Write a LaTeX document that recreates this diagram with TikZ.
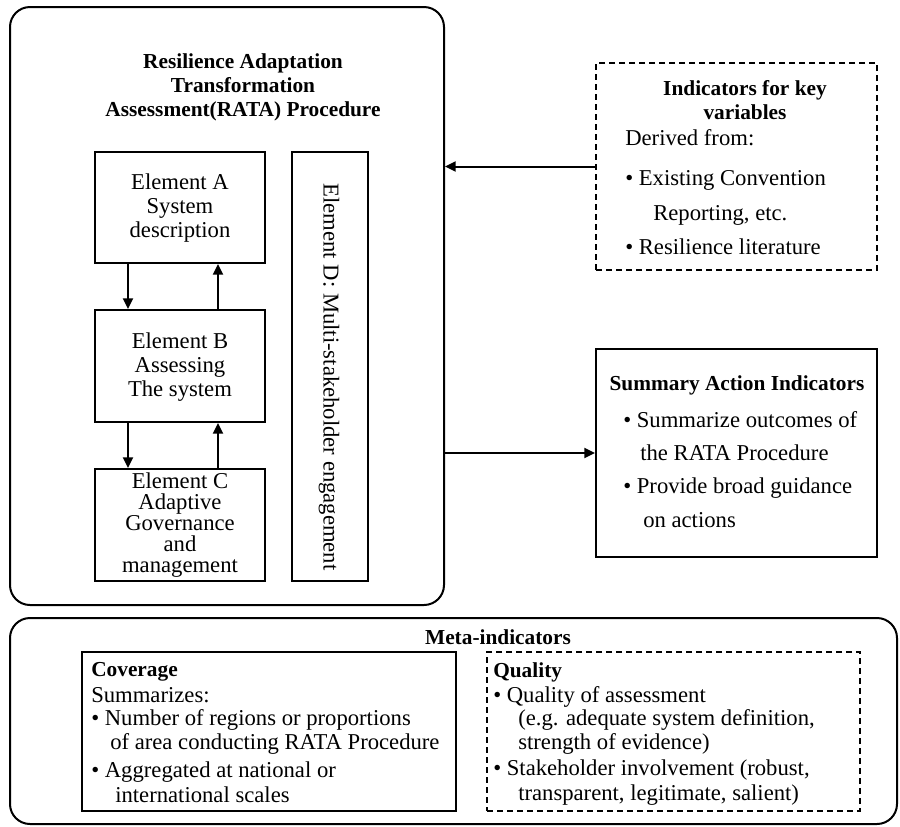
\documentclass[tikz,border=0pt]{standalone}
\usepackage{fontspec}
\setmainfont{Liberation Serif}
\usetikzlibrary{arrows.meta}
\begin{document}
\begin{tikzpicture}[x=0.75pt,y=-0.75pt,
  font=\fontsize{17}{18}\selectfont,
  box/.style={draw, line width=1.5pt, inner sep=0pt},
  dbox/.style={box, line width=1.3pt, dash pattern=on 4.5pt off 3pt},
  txt/.style={inner sep=0pt, align=center},
  ltxt/.style={inner sep=0pt, anchor=west},
  bold/.style={font=\fontsize{16}{18}\selectfont\bfseries},
  arr/.style={line width=1.5pt, -{Triangle[length=8pt,width=7.5pt]}}
]
\useasboundingbox (0,0) rectangle (900,826);

% RATA procedure frame
\node[box, rounded corners=15pt, minimum width=325.5pt, minimum height=448.5pt] (main) at (227,306) {};
\node[txt, bold] (title) at (243,87)
  {Resilience Adaptation\\Transformation\\Assessment(RATA) Procedure};

% elements A, B, C
\node[box, minimum width=127.5pt, minimum height=83.25pt] (A) at (180,207.5) {};
\node[box, minimum width=127.5pt, minimum height=84pt] (B) at (180,366) {};
\node[box, minimum width=127.5pt, minimum height=84pt] (C) at (180,525) {};
\node[txt] (Atext) at (180,208) {Element A\\System\\description};
\node[txt] (Btext) at (180,367.5) {Element B\\Assessing\\The system};
\node[txt, font=\fontsize{17}{15.6}\selectfont] (Ctext) at (180,525)
  {Element C\\Adaptive\\Governance\\and\\management};

% element D
\node[box, minimum width=57pt, minimum height=321.75pt] (D) at (330,366.5) {};
\node[txt, rotate=-90] (Dtext) at (329,377) {Element D: Multi-stakeholder engagement};

% arrows between elements
\draw[arr] ([xshift=-39pt]A.south) -- ([xshift=-39pt]B.north);
\draw[arr] ([xshift=28.5pt]B.north) -- ([xshift=28.5pt]A.south);
\draw[arr] ([xshift=-39pt]B.south) -- ([xshift=-39pt]C.north);
\draw[arr] ([xshift=28.5pt]C.north) -- ([xshift=28.5pt]B.south);

% indicators for key variables
\node[dbox, minimum width=210.75pt, minimum height=155.25pt] (ind) at (736.5,166.5) {};
\node[txt, bold] (indt) at (745,100) {Indicators for key\\variables};
\node[ltxt] (ind1) at (625,138) {Derived from:};
\node[ltxt] (ind2) at (625,180) {\textbullet\ Existing Convention};
\node[ltxt] (ind3) at (653,215) {Reporting, etc.};
\node[ltxt] (ind4) at (625,247) {\textbullet\ Resilience literature};

% summary action indicators
\node[box, minimum width=210.75pt, minimum height=156pt] (sum) at (736.5,453) {};
\node[txt, bold] (sumt) at (737,385) {Summary Action Indicators};
\node[ltxt] (sum1) at (623,420) {\textbullet\ Summarize outcomes of};
\node[ltxt] (sum2) at (640,453) {the RATA Procedure};
\node[ltxt] (sum3) at (623,488) {\textbullet\ Provide broad guidance};
\node[ltxt] (sum4) at (643,520) {on actions};

\draw[arr] (ind.west) -- (ind.west -| main.east);
\draw[arr] (sum.west -| main.east) -- (sum.west);

% meta-indicators
\node[box, rounded corners=15pt, minimum width=665.25pt, minimum height=154.5pt] (meta) at (453.5,721) {};
\node[txt, bold] (metat) at (498,637) {Meta-indicators};

\node[box, minimum width=280.5pt, minimum height=119.25pt] (cov) at (269,731.5) {};
\node[ltxt, bold] (cov0) at (91,672) {Coverage};
\node[ltxt] (cov1) at (91,695) {Summarizes:};
\node[ltxt] (cov2) at (91,720) {\textbullet\ Number of regions or proportions};
\node[ltxt] (cov3) at (110,744) {of area conducting RATA Procedure};
\node[ltxt] (cov4) at (91,772) {\textbullet\ Aggregated at national or};
\node[ltxt] (cov5) at (115,795) {international scales};

\node[dbox, minimum width=279.75pt, minimum height=119.25pt] (qual) at (673.5,731.5) {};
\node[ltxt, bold] (qual0) at (493,672) {Quality};
\node[ltxt] (qual1) at (493,697) {\textbullet\ Quality of assessment};
\node[ltxt] (qual2) at (518,720) {(e.g. adequate system definition,};
\node[ltxt] (qual3) at (518,744) {strength of evidence)};
\node[ltxt] (qual4) at (493,770) {\textbullet\ Stakeholder involvement (robust,};
\node[ltxt] (qual5) at (518,795) {transparent, legitimate, salient)};
\end{tikzpicture}
\end{document}
